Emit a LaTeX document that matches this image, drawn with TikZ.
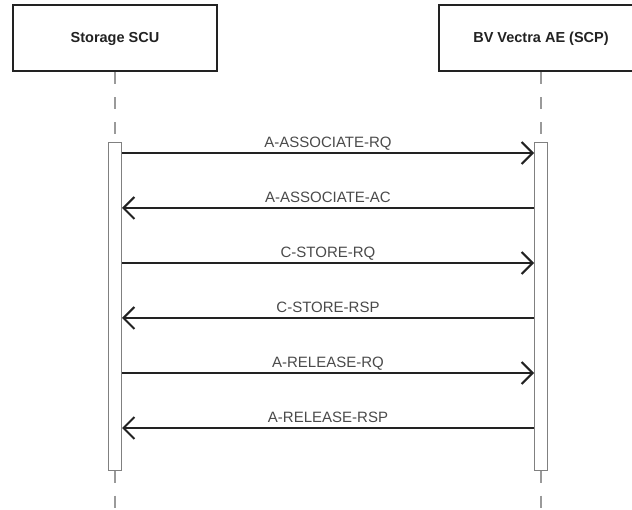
\documentclass[tikz,border=0pt]{standalone}
\usepackage{fontspec}
\setmainfont{Liberation Sans}
\usetikzlibrary{arrows.meta}
\definecolor{inkdark}{HTML}{222222}
\definecolor{textgray}{HTML}{4A4A4A}
\definecolor{linegray}{HTML}{9A9A9A}
\definecolor{bargray}{HTML}{808080}

\begin{document}
\begin{tikzpicture}[x = 1pt, y = 1pt, >= {Straight Barb[length = 11pt, width = 22pt]},
    actor/.style = {shape = rectangle, draw = inkdark, line width = 2pt, fill = white,
        minimum width = 204pt, minimum height = 66pt, text = inkdark,
        font = \fontsize{14.5}{16}\selectfont\bfseries},
    lifeline/.style = {draw = linegray, line width = 1.2pt, dash pattern = on 12pt off 13pt},
    activebar/.style = {shape = rectangle, draw = bargray, line width = 1pt, fill = white,
        minimum width = 13pt, minimum height = 327pt, inner sep = 0pt},
    msg/.style = {draw = inkdark, line width = 2pt},
    msglabel/.style = {anchor = base, yshift = 5pt, inner sep = 0pt, text = textgray,
        font = \fontsize{15}{17}\selectfont}]
        \useasboundingbox (0,0) rectangle (632,-510);
        \clip (0,0) rectangle (632,-510);
        % participants
        \node[actor] (scu) at (115,-38.5) {Storage SCU};
        \node[actor] (scp) at (541,-38.5) {BV Vectra AE (SCP)};
        % activation bars
        \node[activebar] (lbar) at (115,-306.5) {};
        \node[activebar] (rbar) at (541,-306.5) {};
        \coordinate (lend) at (115,-510);
        \coordinate (rend) at (541,-510);
        % lifelines
        \draw[lifeline] (scu.south) -- (lbar.north);
        \draw[lifeline] (lbar.south) -- (lend);
        \draw[lifeline] (scp.south) -- (rbar.north);
        \draw[lifeline] (rbar.south) -- (rend);
        % messages
        \foreach \msgtext/\y/\dir [count = \i] in {
            A-ASSOCIATE-RQ/153/->, A-ASSOCIATE-AC/208/<-,
            C-STORE-RQ/263/->, C-STORE-RSP/318/<-,
            A-RELEASE-RQ/373/->, A-RELEASE-RSP/428/<-}{
            \path (lbar.east |- 0,-\y) coordinate (l\i);
            \path (rbar.west |- 0,-\y) coordinate (r\i);
            \draw[msg, \dir] (l\i) -- node[msglabel]{\msgtext} (r\i);
        }
\end{tikzpicture}
\end{document}
